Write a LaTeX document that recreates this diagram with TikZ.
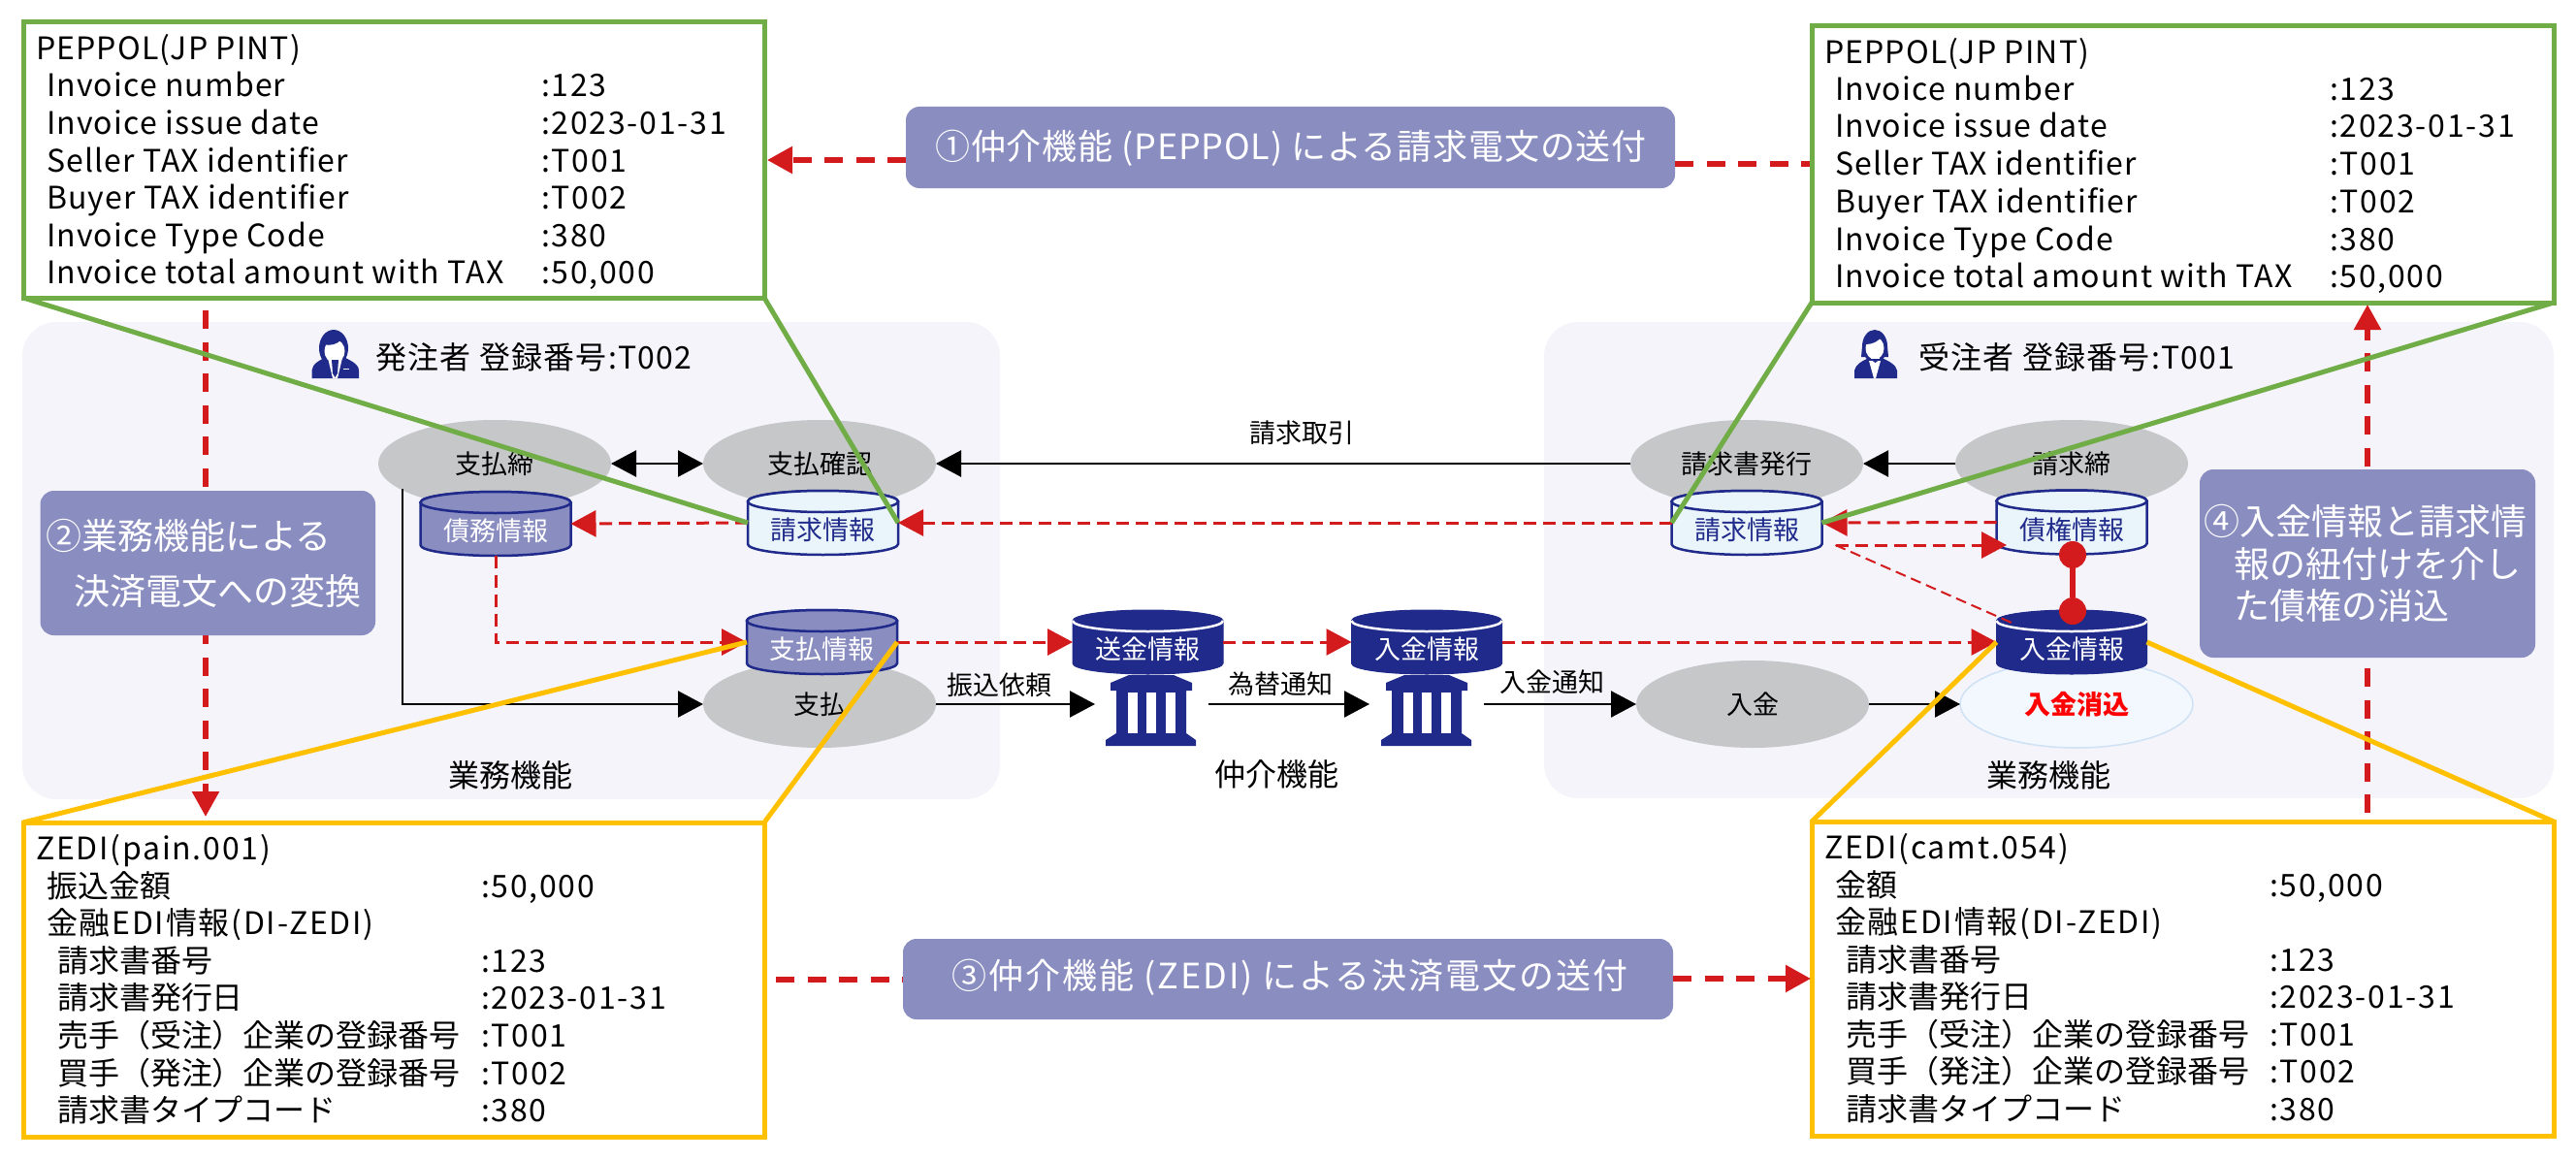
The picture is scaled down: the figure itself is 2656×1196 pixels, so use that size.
\documentclass[tikz,border=0pt]{standalone}
\usepackage{fontspec}
\setmainfont{Noto Sans CJK JP}
\usetikzlibrary{arrows.meta,shapes.geometric}
\definecolor{panelc}{HTML}{F4F4FA}
\definecolor{grayc}{HTML}{C6C7C9}
\definecolor{greenc}{HTML}{70AD47}
\definecolor{yellowc}{HTML}{FFC000}
\definecolor{redc}{HTML}{D31A1C}
\definecolor{navyc}{HTML}{1F2A8A}
\definecolor{purplec}{HTML}{8A8DC0}
\definecolor{lightc}{HTML}{EAF4FB}
\definecolor{lightb}{HTML}{CFE2F5}
\newcommand{\fs}[1]{\fontsize{#1}{#1}\selectfont}
\newcommand{\lsp}[2]{{\addfontfeature{LetterSpace=#1}#2}}
\newcommand{\lab}[1]{\lsp{3.6}{#1}}
\newcommand{\val}[1]{\lsp{5.5}{#1}}
\newcount\rowcnt
\newcommand{\rowt}[3]{\global\advance\rowcnt by 1\relax
  \node[rowtext] (row\the\rowcnt) at (#1,{#2+11}) {#3};}
\newcommand{\dbcyl}[6]{%
  \node[dbbox] (#1) at (#2,#3) {};
  \begin{scope}[shift={(#2,#3)}]
    \path[#4body] (-77.5,-22) -- (-77.5,22)
      arc[start angle=180,end angle=360,x radius=77.5pt,y radius=11pt]
      -- (77.5,-22) arc[start angle=0,end angle=180,x radius=77.5pt,y radius=11pt] -- cycle;
    \path[#4top] (-77.5,-22) arc[start angle=180,end angle=360,x radius=77.5pt,y radius=11pt]
      arc[start angle=0,end angle=180,x radius=77.5pt,y radius=11pt] -- cycle;
    #6
    \node[cyltext,text=#5] (#1t) at (0,7.5) {\cyltxt};
  \end{scope}}
\newcommand{\cyltxt}{}
\newcommand{\bank}[3]{%
  \begin{scope}[shift={(#2,#3)}]
    \coordinate (#1) at (0,0);
    \path[fill=navyc] (-23,-37) -- (23,-37) -- (42,-29) -- (42,-21) -- (36,-21) -- (36,23) -- (-36,23) -- (-36,-21) -- (-42,-21) -- (-42,-29) -- cycle;
    \path[fill=navyc] (-36,23) -- (36,23) -- (46,30) -- (46,36) -- (-47,36) -- (-47,30) -- cycle;
    \path[fill=white] (-24.5,-19) rectangle (-14.5,23);
    \path[fill=white] (-5,-19) rectangle (5,23);
    \path[fill=white] (14.5,-19) rectangle (24.5,23);
  \end{scope}}
\tikzset{
  every node/.style={inner sep=0pt,outer sep=0pt},
  panel/.style={fill=panelc,rounded corners=35pt},
  proc/.style={ellipse,fill=grayc,minimum width=240pt,minimum height=90pt,font=\fs{27}},
  procdone/.style={ellipse,fill=lightc!60!white,draw=lightb,line width=1.5pt,minimum width=240pt,minimum height=90pt,font=\bfseries\fs{27},text=red},
  dbbox/.style={minimum width=155pt,minimum height=66pt},
  cyltext/.style={font=\fs{27}},
  lightbody/.style={fill=lightc,draw=navyc,line width=2.5pt},
  lighttop/.style={fill=lightc,draw=navyc,line width=2.5pt},
  midbody/.style={fill=purplec,draw=navyc,line width=2.5pt},
  midtop/.style={fill=purplec,draw=navyc,line width=2.5pt},
  darkbody/.style={fill=navyc,draw=navyc,line width=1pt},
  darktop/.style={fill=navyc},
  blk/.style={draw=black,line width=2.5pt},
  blkarrow/.style={blk,-{Triangle[length=26pt,width=27pt]}},
  redthin/.style={draw=redc,line width=3pt,dash pattern=on 13pt off 7pt},
  redarrow/.style={redthin,-{Triangle[length=26pt,width=27pt,fill=redc]}},
  redthick/.style={draw=redc,line width=5.5pt,dash pattern=on 19pt off 13.5pt},
  redthickarrow/.style={redthick,-{Triangle[length=26pt,width=27pt,fill=redc]}},
  infobox/.style={fill=purplec,rounded corners=14pt},
  infotext/.style={font=\fs{37},text=white,anchor=base west},
  tagtext/.style={font=\fs{27}},
  headtext/.style={font=\fs{32}},
  rowtext/.style={font=\fs{32},anchor=base west},
  greenbox/.style={draw=greenc,fill=white,line width=5pt},
  yellowbox/.style={draw=yellowc,fill=white,line width=5pt},
  greenline/.style={draw=greenc,line width=5pt},
  yellowline/.style={draw=yellowc,line width=5pt},
  pin/.style={circle,fill=redc,minimum size=28pt},
}
\begin{document}
\begin{tikzpicture}[x=1pt,y=-1pt]
\useasboundingbox (0,0) rectangle (2656,1196);
% panels
\path[panel] (23,332) rectangle (1031,824);
\path[panel] (1592,332) rectangle (2633,823);
% process ellipses
\node[proc] (pclose) at (510,478) {支払締};
\node[proc] (pcheck) at (845,478) {支払確認};
\node[proc] (ppay) at (845,726) {支払};
\node[proc] (rissue) at (1801,478) {請求書発行};
\node[proc] (rclose) at (2136,478) {請求締};
\node[proc] (rin) at (1807,726) {入金};
\node[procdone] (rclear) at (2141,726) {入金消込};
% banks
\bank{bankA}{1187}{733}
\bank{bankB}{1471}{733}
% black flows
\coordinate (lstart) at (415,504);
\draw[blk,{Triangle[length=26pt,width=27pt]}-{Triangle[length=26pt,width=27pt]}] (pclose.east) -- (pcheck.west);
\draw[blkarrow] (rissue.west) -- node[tagtext,pos=.473,yshift=32pt] (tagA) {請求取引} (pcheck.east);
\draw[blkarrow] (rclose.west) -- (rissue.east);
\draw[blkarrow] (lstart) -- (415,726) -- (ppay.west);
\draw[blkarrow] (ppay.east) -- node[tagtext,pos=.40,yshift=20pt] (tagB) {振込依頼} (1129,726) coordinate (bankAin);
\draw[blkarrow] (1246,726) coordinate (bankAout) -- node[tagtext,pos=.45,yshift=21pt] (tagC) {為替通知} (1412,726) coordinate (bankBin);
\draw[blkarrow] (1530,726) coordinate (bankBout) -- node[tagtext,pos=.45,yshift=23pt] (tagD) {入金通知} (rin.west);
\draw[blkarrow] (rin.east) -- (rclear.west);
% cylinders
\renewcommand{\cyltxt}{債務情報}\dbcyl{dbDebt}{511}{540}{mid}{white}{}
\renewcommand{\cyltxt}{請求情報}\dbcyl{dbInvL}{848.5}{539}{light}{navyc}{}
\renewcommand{\cyltxt}{支払情報}\dbcyl{dbPay}{847.5}{662}{mid}{white}{}
\renewcommand{\cyltxt}{送金情報}\dbcyl{dbSend}{1183.5}{662}{dark}{white}{\draw[white,line width=2.5pt] (-77.5,-22) arc[start angle=180,end angle=360,x radius=77.5pt,y radius=11pt];}
\renewcommand{\cyltxt}{入金情報}\dbcyl{dbRecv}{1471}{662}{dark}{white}{\draw[white,line width=2.5pt] (-77.5,-22) arc[start angle=180,end angle=360,x radius=77.5pt,y radius=11pt];}
\renewcommand{\cyltxt}{請求情報}\dbcyl{dbInvR}{1801}{539}{light}{navyc}{}
\renewcommand{\cyltxt}{債権情報}\dbcyl{dbCred}{2136}{538.5}{light}{navyc}{}
\renewcommand{\cyltxt}{入金情報}\dbcyl{dbCash}{2136}{662}{dark}{white}{\draw[white,line width=2.5pt] (-77.5,-22) arc[start angle=180,end angle=360,x radius=77.5pt,y radius=11pt];}
% pins
\node[pin] (pinA) at (2137,572) {};
\node[pin] (pinB) at (2137,630) {};
\draw[redc,line width=5.5pt] (pinA) -- (pinB);
% red thin flows
\draw[redarrow] (dbInvL.west) -- (dbDebt.east);
\draw[redarrow] (dbInvR.west) -- (dbInvL.east);
\draw[redarrow] (dbCred.west) -- (dbInvR.east);
\coordinate (mA) at ([xshift=14pt,yshift=-23pt]dbInvR.east);
\draw[redarrow] (mA) -- ([xshift=10.5pt]mA -| dbCred.west);
\draw[draw=redc,line width=2pt,dash pattern=on 11pt off 6pt] (mA) -- (2074,642);
\draw[redarrow] (dbDebt.south) -- (511,662) -- (dbPay.west);
\draw[redarrow] (dbPay.east) -- (dbSend.west);
\draw[redarrow] (dbSend.east) -- (dbRecv.west);
\draw[redarrow] (dbRecv.east) -- (dbCash.west);
% boxes
\node[greenbox,minimum width=764pt,minimum height=284pt] (boxTL) at (406,165) {};
\node[greenbox,minimum width=765pt,minimum height=285pt] (boxTR) at (2250.5,169.5) {};
\node[yellowbox,minimum width=764pt,minimum height=324pt] (boxBL) at (406,1010) {};
\node[yellowbox,minimum width=765pt,minimum height=324pt] (boxBR) at (2250.5,1009) {};
% long red flows
\draw[redthickarrow] (212,320) -- (212,842) coordinate (vEndL);
\draw[redthickarrow] (2441,838) coordinate (vStartR) -- (2441,314);
% info boxes
\path[infobox] (934,110) rectangle (1727,194);
\node[font=\fs{36},text=white] (infoA) at (1331,153) {\lsp{2.3}{①仲介機能 (PEPPOL) による請求電文の送付}};
\path[infobox] (931,968) rectangle (1725,1051);
\node[font=\fs{36},text=white] (infoC) at (1330,1008) {\lsp{5.4}{③仲介機能 (ZEDI) による決済電文の送付}};
\path[infobox] (41.5,506) rectangle (387,655);
\node[infotext] (infoB1) at (47,566) {②業務機能による};
\node[infotext] (infoB2) at (76,623) {決済電文への変換};
\path[infobox] (2268,484) rectangle (2614,678);
\node[infotext] (infoD1) at (2272,551) {④入金情報と請求情};
\node[infotext] (infoD2) at (2303,595) {報の紐付けを介し};
\node[infotext] (infoD3) at (2303,638) {た債権の消込};
\draw[redthickarrow] (934,165) -- (791,165);
\draw[redthick] (1727,169) -- (1866,169);
\draw[redthick] (800,1010) -- (931,1010);
\draw[redthickarrow] (1725,1009) -- (1867,1009);
% callout lines
\draw[greenline] (boxTL.south west) -- (dbInvL.west);
\draw[greenline] (boxTL.south east) -- (dbInvL.east);
\draw[greenline] (boxTR.south west) -- (dbInvR.west);
\draw[greenline] (boxTR.south east) -- (dbInvR.east);
\draw[yellowline] (boxBL.north west) -- (dbPay.west);
\draw[yellowline] (boxBL.north east) -- (dbPay.east);
\draw[yellowline] (boxBR.north west) -- (dbCash.west);
\draw[yellowline] (boxBR.north east) -- (dbCash.east);
% box text
\rowt{37}{51}{\lab{PEPPOL(JP PINT)}}
\rowt{48}{89}{\lab{Invoice number}}\rowt{558}{89}{\val{:123}}
\rowt{48}{128}{\lab{Invoice issue date}}\rowt{558}{128}{\val{:2023-01-31}}
\rowt{48}{166}{\lab{Seller TAX identifier}}\rowt{558}{166}{\val{:T001}}
\rowt{48}{204}{\lab{Buyer TAX identifier}}\rowt{558}{204}{\val{:T002}}
\rowt{48}{243}{\lab{Invoice Type Code}}\rowt{558}{243}{\val{:380}}
\rowt{48}{281}{\lab{Invoice total amount with TAX}}\rowt{558}{281}{\val{:50,000}}
\rowt{1881}{55}{\lab{PEPPOL(JP PINT)}}
\rowt{1892}{93}{\lab{Invoice number}}\rowt{2402}{93}{\val{:123}}
\rowt{1892}{131}{\lab{Invoice issue date}}\rowt{2402}{131}{\val{:2023-01-31}}
\rowt{1892}{169}{\lab{Seller TAX identifier}}\rowt{2402}{169}{\val{:T001}}
\rowt{1892}{208}{\lab{Buyer TAX identifier}}\rowt{2402}{208}{\val{:T002}}
\rowt{1892}{247}{\lab{Invoice Type Code}}\rowt{2402}{247}{\val{:380}}
\rowt{1892}{285}{\lab{Invoice total amount with TAX}}\rowt{2402}{285}{\val{:50,000}}
\rowt{37}{875}{\val{ZEDI(pain.001)}}
\rowt{48}{914}{振込金額}\rowt{496}{914}{\val{:50,000}}
\rowt{48}{952}{\val{金融EDI情報(DI-ZEDI)}}
\rowt{59}{991}{請求書番号}\rowt{496}{991}{\val{:123}}
\rowt{59}{1029}{請求書発行日}\rowt{496}{1029}{\val{:2023-01-31}}
\rowt{59}{1068}{売手（受注）企業の登録番号}\rowt{496}{1068}{\val{:T001}}
\rowt{59}{1107}{買手（発注）企業の登録番号}\rowt{496}{1107}{\val{:T002}}
\rowt{59}{1145}{請求書タイプコード}\rowt{496}{1145}{\val{:380}}
\rowt{1881}{874}{\val{ZEDI(camt.054)}}
\rowt{1892}{913}{金額}\rowt{2340}{913}{\val{:50,000}}
\rowt{1892}{951}{\val{金融EDI情報(DI-ZEDI)}}
\rowt{1903}{990}{請求書番号}\rowt{2340}{990}{\val{:123}}
\rowt{1903}{1028}{請求書発行日}\rowt{2340}{1028}{\val{:2023-01-31}}
\rowt{1903}{1067}{売手（受注）企業の登録番号}\rowt{2340}{1067}{\val{:T001}}
\rowt{1903}{1105}{買手（発注）企業の登録番号}\rowt{2340}{1105}{\val{:T002}}
\rowt{1903}{1144}{請求書タイプコード}\rowt{2340}{1144}{\val{:380}}
% headings
\node[headtext,anchor=west] (headL) at (387,368) {\lsp{4}{発注者 登録番号:T002}};
\node[headtext,anchor=west] (headR) at (1978,368) {\lsp{4}{受注者 登録番号:T001}};
\node[headtext] (footL) at (526,799) {業務機能};
\node[headtext] (footM) at (1316,798) {仲介機能};
\node[headtext] (footR) at (2112,799) {業務機能};
% man icon
\begin{scope}[shift={(310,335)}]
  \path[fill=navyc] (11.5,55) -- (11.5,47) .. controls (12,40) and (20,36) .. (27,33) -- (44,33) .. controls (50,36) and (60,40) .. (60,47) -- (60,55) -- cycle;
  \path[fill=navyc] (34,24) circle[x radius=15pt,y radius=19pt];
  \path[fill=white] (35,27) circle[x radius=10.5pt,y radius=12pt];
  \path[fill=navyc] (24,20) .. controls (30,22) and (38,20) .. (42,15) -- (44,12) -- (26,8) -- cycle;
  \path[fill=white] (28,34) -- (43,34) -- (38,55) -- (33,55) -- cycle;
  \path[fill=navyc] (32,36) -- (39,36) -- (38,50) -- (35.5,54) -- (33,50) -- cycle;
  \path[fill=white] (44,44.5) rectangle (50,46);
\end{scope}
% woman icon
\begin{scope}[shift={(1900,335)}]
  \path[fill=navyc] (12,55) -- (12,47) .. controls (13,41) and (20,37) .. (27,34) -- (40,34) .. controls (47,37) and (55,41) .. (56,47) -- (56,55) -- cycle;
  \path[fill=navyc] (33,22) circle[x radius=13pt,y radius=17pt];
  \path[fill=navyc] (20,22) -- (46,22) -- (47,33) -- (19,33) -- cycle;
  \path[fill=white] (33,24) circle[x radius=9.5pt,y radius=11.5pt];
  \path[fill=navyc] (24,20) .. controls (30,20) and (37,17) .. (40,12) -- (26,8) -- cycle;
  \path[fill=white] (29,33) rectangle (38,36);
  \path[fill=white] (27,37) -- (39,37) -- (34,55) -- (32,55) -- cycle;
  \path[fill=navyc] (28,35) -- (39,35) -- (33.5,39) -- cycle;
\end{scope}
\end{tikzpicture}
\end{document}
